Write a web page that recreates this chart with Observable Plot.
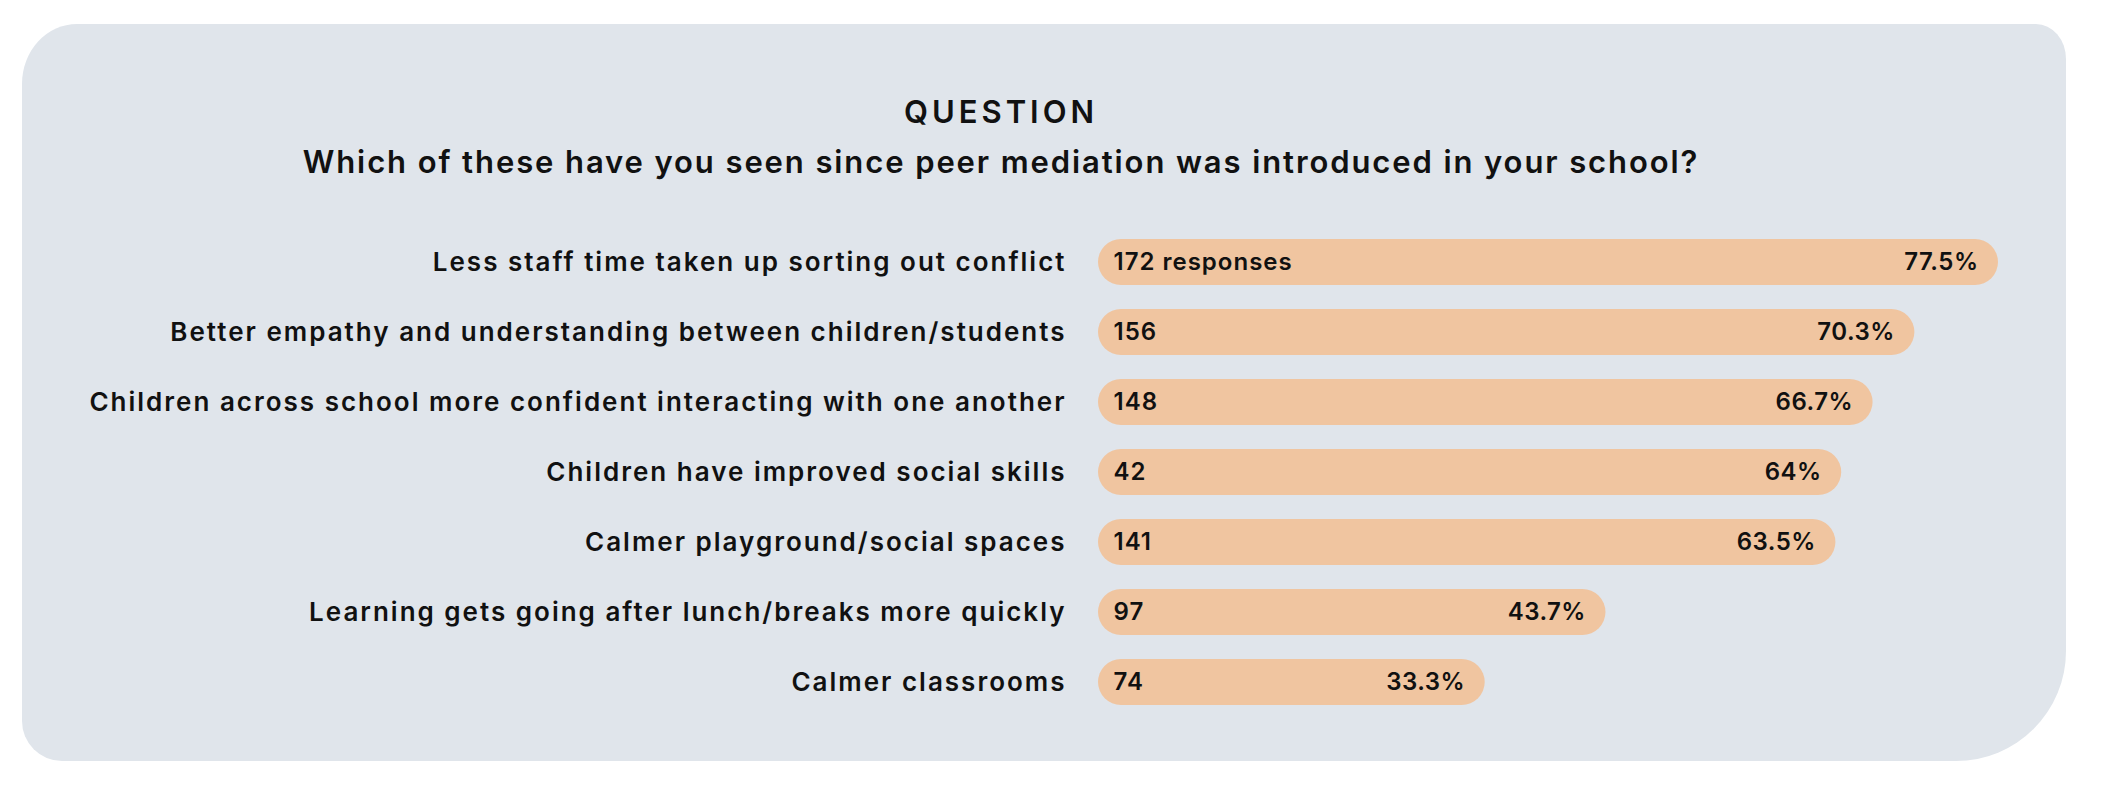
<!DOCTYPE html>
<html>
<head>
<meta charset="utf-8">
<script src="https://cdn.jsdelivr.net/npm/d3@7"></script>
<script src="https://cdn.jsdelivr.net/npm/@observablehq/plot@0.6"></script>
<style>
  html, body { margin: 0; padding: 0; background: #ffffff; }
  #wrap { position: relative; width: 2102px; height: 798px; overflow: hidden; font-family: Inter, "Noto Sans", sans-serif; color: #111; }
  #panel { position: absolute; left: 22px; top: 24px; width: 2044px; height: 737px; background: #e0e5eb;
           border-radius: 55px 30px 110px 40px / 60px 35px 110px 40px; }
  .title { position: absolute; left: 0; width: 2002px; text-align: center; line-height: 1; white-space: nowrap; }
  #kicker { top: 96px; font-size: 31px; font-weight: 600; letter-spacing: 4px; }
  #question { top: 146px; font-size: 31px; font-weight: 600; letter-spacing: 1.9px; }
  #chart { position: absolute; left: 0; top: 200px; }
  g[aria-description="category labels"] text { letter-spacing: 2px; }
  g[aria-description="count labels"] text { letter-spacing: 1px; }
  g[aria-description="percent labels"] text { letter-spacing: 0.5px; }
</style>
</head>
<body>
<div id="wrap">
  <div id="panel"></div>
  <div class="title" id="kicker">QUESTION</div>
  <div class="title" id="question">Which of these have you seen since peer mediation was introduced in your school?</div>
  <div id="chart"></div>
</div>
<script>
const categories = [
  "Less staff time taken up sorting out conflict",
  "Better empathy and understanding between children/students",
  "Children across school more confident interacting with one another",
  "Children have improved social skills",
  "Calmer playground/social spaces",
  "Learning gets going after lunch/breaks more quickly",
  "Calmer classrooms"
];
const responses = [172, 156, 148, 42, 141, 97, 74];
const percents = [77.5, 70.3, 66.7, 64, 63.5, 43.7, 33.3];
const countLabels = ["172 responses", "156", "148", "42", "141", "97", "74"];
const percentLabels = ["77.5%", "70.3%", "66.7%", "64%", "63.5%", "43.7%", "33.3%"];

const rows = categories.map((c, i) => ({
  category: c, responses: responses[i], percent: percents[i],
  countLabel: countLabels[i], percentLabel: percentLabels[i]
}));

const font = "Inter, 'Noto Sans', sans-serif";
const chart = Plot.plot({
  width: 2102,
  height: 560,
  marginLeft: 1098,
  marginRight: 104,
  marginTop: 13.5,
  marginBottom: 29.6,
  style: { background: "transparent", fontFamily: font, color: "#111" },
  x: { domain: [0, 77.5], axis: null },
  y: { domain: categories, axis: null, padding: 0.35 },
  marks: [
    Plot.barX(rows, { x: "percent", y: "category", fill: "#f0c5a0", rx: 23 }),
    Plot.text(rows, { x: 0, y: "category", text: "category", textAnchor: "end", dx: -32,
      fontSize: 26, fontWeight: 600, fill: "#111", ariaDescription: "category labels" }),
    Plot.text(rows, { x: 0, y: "category", text: "countLabel", textAnchor: "start", dx: 15,
      fontSize: 24, fontWeight: 600, fill: "#111", ariaDescription: "count labels" }),
    Plot.text(rows, { x: "percent", y: "category", text: "percentLabel", textAnchor: "end", dx: -20,
      fontSize: 24, fontWeight: 600, fill: "#111", ariaDescription: "percent labels" })
  ]
});
document.getElementById("chart").appendChild(chart);
</script>
</body>
</html>
